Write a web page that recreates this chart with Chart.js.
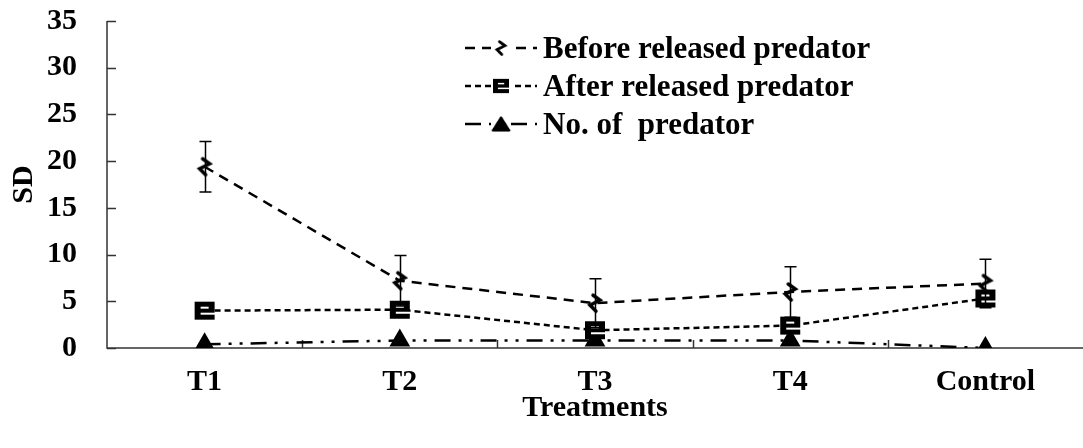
<!DOCTYPE html>
<html>
<head>
<meta charset="utf-8">
<script src="https://cdn.jsdelivr.net/npm/chart.js@4.4.1/dist/chart.umd.min.js"></script>
<style>
  html, body { margin: 0; padding: 0; background: #fff; }
  #wrap { width: 1083px; height: 448px; }
</style>
</head>
<body>
<div id="wrap"><canvas id="myChart" width="1083" height="448"></canvas></div>
<script>
// valores
var treatments = ['T1', 'T2', 'T3', 'T4', 'Control']
var before = [19.4, 7.2, 4.8, 6.0, 6.9]
var beforeErr = [2.7, 2.7, 2.6, 2.7, 2.6]
var after = [4.0, 4.1, 1.9, 2.4, 5.3]
var predator = [0.4, 0.8, 0.8, 0.8, 0.0]
var yTicks = [0, 5, 10, 15, 20, 25, 30, 35]

var fontSerif = '"Liberation Serif", "Times New Roman", serif'

// marcador em zig-zag da serie "before"
function zigMarker() {
    var c = document.createElement('canvas')
    c.width = 20; c.height = 22
    var g = c.getContext('2d')
    g.strokeStyle = '#000'
    g.lineWidth = 3.5
    g.lineCap = 'round'
    g.beginPath()
    g.moveTo(8, 3); g.lineTo(15, 8); g.lineTo(5, 13); g.lineTo(11, 19)
    g.stroke()
    return c
}

function boxMarker() {
    var c = document.createElement('canvas')
    c.width = 22; c.height = 22
    var g = c.getContext('2d')
    g.fillStyle = '#000'
    g.fillRect(1, 2, 20, 18)
    g.fillStyle = '#fff'
    g.fillRect(7, 7, 8, 2)
    g.fillRect(7, 13, 14, 2)
    return c
}

// so para a legenda
function triMarker() {
    var c = document.createElement('canvas')
    c.width = 24; c.height = 22
    var g = c.getContext('2d')
    g.fillStyle = '#000'
    g.strokeStyle = '#000'
    g.lineWidth = 3
    g.lineJoin = 'round'
    g.beginPath()
    g.moveTo(12, 3); g.lineTo(22, 19); g.lineTo(2, 19)
    g.closePath(); g.fill(); g.stroke()
    return c
}

var zig = zigMarker()
var box = boxMarker()
var tri = triMarker()

var ctx = document.getElementById('myChart')

// barras de erro
var errorBars = {
    id: 'errorBars',
    afterDatasetsDraw(chart) {
        var g = chart.ctx
        var xs = chart.scales.x, ys = chart.scales.y
        g.save()
        g.strokeStyle = '#000'
        g.lineWidth = 1.5
        before.forEach(function (v, i) {
            var x = Math.round(xs.getPixelForValue(i)) + 0.5
            var yt = ys.getPixelForValue(v + beforeErr[i])
            var yb = ys.getPixelForValue(v - beforeErr[i])
            g.beginPath()
            g.moveTo(x, yt); g.lineTo(x, yb)
            g.moveTo(x - 6, yt); g.lineTo(x + 6, yt)
            g.moveTo(x - 6, yb); g.lineTo(x + 6, yb)
            g.stroke()
        })
        g.restore()
    }
}

// eixos com marcas para dentro
var axisTicks = {
    id: 'axisTicks',
    beforeDatasetsDraw(chart) {
        var g = chart.ctx
        var xs = chart.scales.x, ys = chart.scales.y
        var a = chart.chartArea
        g.save()
        g.strokeStyle = '#333'
        g.lineWidth = 1.5
        g.beginPath()
        g.moveTo(a.left, a.top); g.lineTo(a.left, a.bottom); g.lineTo(a.right, a.bottom)
        yTicks.forEach(function (t) {
            var y = Math.round(ys.getPixelForValue(t)) + 0.5
            g.moveTo(a.left, y); g.lineTo(a.left + 9, y)
        })
        for (var i = 1; i < treatments.length; i++) {
            var x = Math.round((xs.getPixelForValue(i - 1) + xs.getPixelForValue(i)) / 2) + 0.5
            g.moveTo(x, a.bottom); g.lineTo(x, a.bottom - 8)
        }
        g.stroke()
        g.restore()
    }
}

// legenda dentro do grafico
var legendMarks = [zig, box, tri]
var myLegend = {
    id: 'myLegend',
    afterDraw(chart) {
        var g = chart.ctx
        var x0 = 465, y0 = 48, step = 38
        g.save()
        g.font = 'bold 31px ' + fontSerif
        g.textBaseline = 'middle'
        chart.data.datasets.forEach(function (ds, i) {
            var y = y0 + i * step
            g.strokeStyle = '#000'
            g.lineWidth = 2.5
            g.setLineDash(ds.borderDash)
            g.beginPath()
            g.moveTo(x0, y); g.lineTo(x0 + 72, y)
            g.stroke()
            g.setLineDash([])
            g.fillStyle = '#fff'
            g.fillRect(x0 + 26, y - 9, 20, 18)
            var m = legendMarks[i]
            g.drawImage(m, x0 + 36 - m.width * 0.4, y - m.height * 0.4, m.width * 0.8, m.height * 0.8)
            g.fillStyle = '#000'
            g.fillText(ds.label, x0 + 78, y + 2)
        })
        g.restore()
    }
}

new Chart(ctx, {
    type: 'line',
    data: {
        labels: treatments,
        datasets: [{
            label: 'Before released predator',
            data: before,
            borderColor: '#000',
            borderWidth: 2.5,
            borderDash: [10, 7],
            pointStyle: zig
        }, {
            label: 'After released predator',
            data: after,
            borderColor: '#000',
            borderWidth: 2.5,
            borderDash: [6, 4],
            pointStyle: box
        }, {
            label: 'No. of  predator',
            data: predator,
            borderColor: '#000',
            backgroundColor: '#000',
            borderWidth: 2.5,
            borderDash: [16, 8, 3, 8, 3, 8],
            pointStyle: 'triangle',
            pointRadius: 10,
            pointBorderWidth: 2
        }]
    },
    options: {
        responsive: false,
        animation: false,
        layout: { padding: 0, autoPadding: false },
        plugins: {
            legend: { display: false },
            tooltip: { enabled: false }
        },
        scales: {
            x: {
                offset: true,
                grid: { display: false },
                border: { display: false },
                ticks: {
                    color: '#000',
                    padding: 8,
                    font: { family: fontSerif, size: 30, weight: 'bold' }
                },
                title: {
                    display: true,
                    text: 'Treatments',
                    color: '#000',
                    padding: { top: 0, bottom: 22 },
                    font: { family: fontSerif, size: 30, weight: 'bold' }
                },
                afterFit(s) {
                    s.height = 100
                    s.paddingLeft = 0
                    s.paddingRight = 0
                }
            },
            y: {
                min: 0,
                max: 35,
                afterBuildTicks(s) { s.ticks = yTicks.map(function (v) { return { value: v } }) },
                grid: { display: false, tickLength: 27 },
                border: { display: false },
                ticks: {
                    color: '#000',
                    padding: 3,
                    font: { family: fontSerif, size: 30, weight: 'bold' }
                },
                title: {
                    display: true,
                    text: 'SD',
                    color: '#000',
                    padding: { top: 6, bottom: 0 },
                    font: { family: fontSerif, size: 30, weight: 'bold' }
                },
                afterFit(s) { s.width = 107 }
            }
        }
    },
    plugins: [axisTicks, errorBars, myLegend]
})
</script>
</body>
</html>
